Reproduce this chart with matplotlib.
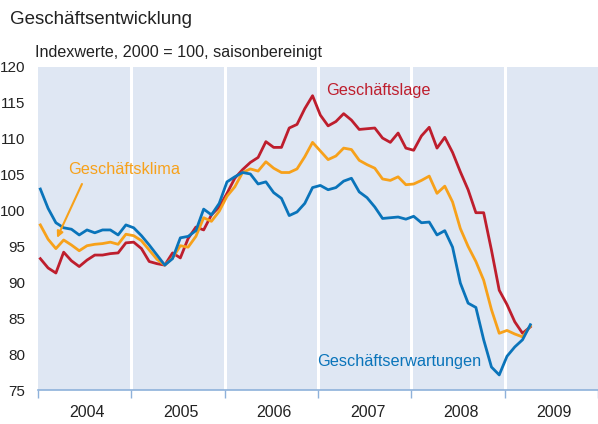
"""
plot.py
Geschäftsentwicklung — ifo-Indexwerte 2004 bis April 2009

Draws three monthly series (Geschäftslage, Geschäftsklima,
Geschäftserwartungen) on a light blue panel and saves out.png.

Run : python plot.py
"""

import matplotlib
matplotlib.use("Agg")
import matplotlib.pyplot as plt
import numpy as np

# ── Config ────────────────────────────────────────────────────
OUT_FILE  = "out.png"
FONT      = ["Liberation Sans", "DejaVu Sans"]
BG_PANEL  = "#DFE7F3"
AXIS_BLUE = "#8EB1DA"
TEXT_COL  = "#222222"

COL_LAGE  = "#BE1E2D"
COL_KLIMA = "#F7A11A"
COL_ERW   = "#0A74BA"

plt.rcParams["font.family"] = FONT

# ── Data (monthly, Jan 2004 – Apr 2009) ───────────────────────
years      = [2004, 2005, 2006, 2007, 2008, 2009]
year_ticks = ["2004", "2005", "2006", "2007", "2008", "2009"]
y_ticks    = [75, 80, 85, 90, 95, 100, 105, 110, 115, 120]

lage = [
    93.3, 92.0, 91.3, 94.2, 93.0, 92.2, 93.1, 93.8, 93.8, 94.0, 94.1, 95.5,
    95.6, 94.7, 92.9, 92.6, 92.4, 94.1, 93.4, 96.1, 97.7, 97.3, 99.4, 100.5,
    102.4, 104.5, 105.7, 106.7, 107.4, 109.6, 108.8, 108.8, 111.5, 112.0, 114.2, 116.0,
    113.3, 111.8, 112.4, 113.5, 112.6, 111.3, 111.4, 111.5, 110.1, 109.5, 110.8, 108.7,
    108.4, 110.4, 111.6, 108.7, 110.2, 108.1, 105.4, 102.9, 99.7, 99.7, 94.5, 88.9,
    86.9, 84.5, 82.9, 83.8,
]

klima = [
    98.0, 96.0, 94.7, 95.9, 95.2, 94.4, 95.1, 95.3, 95.4, 95.6, 95.3, 96.7,
    96.5, 95.8, 94.5, 93.2, 92.4, 93.4, 95.1, 94.9, 96.4, 99.0, 98.5, 99.9,
    102.0, 103.3, 105.3, 105.8, 105.5, 106.8, 105.9, 105.3, 105.3, 105.8, 107.5, 109.5,
    108.3, 107.1, 107.6, 108.7, 108.5, 107.0, 106.4, 105.9, 104.4, 104.2, 104.7, 103.6,
    103.7, 104.2, 104.8, 102.4, 103.4, 101.2, 97.5, 95.0, 92.9, 90.3, 86.2, 82.9,
    83.3, 82.8, 82.4, 83.9,
]

erwartungen = [
    103.0, 100.3, 98.3, 97.6, 97.4, 96.6, 97.3, 96.9, 97.3, 97.3, 96.6, 98.0,
    97.6, 96.5, 95.2, 93.8, 92.4, 93.3, 96.2, 96.4, 97.2, 100.2, 99.4, 101.0,
    104.0, 104.7, 105.3, 105.1, 103.7, 104.0, 102.5, 101.7, 99.3, 99.8, 101.0, 103.2,
    103.5, 102.9, 103.2, 104.1, 104.5, 102.6, 101.8, 100.5, 98.9, 99.0, 99.1, 98.8,
    99.2, 98.3, 98.4, 96.6, 97.2, 94.9, 89.9, 87.1, 86.5, 82.0, 78.2, 77.1,
    79.7, 81.0, 82.0, 84.1,
]

# month positions in decimal years
months = 2004 + (np.arange(len(lage)) + 0.3) / 12


# ── Plot ──────────────────────────────────────────────────────

def plot_chart(output_path: str):
    fig = plt.figure(figsize=(5.98, 4.24), dpi=100)
    fig.patch.set_facecolor("white")
    ax = fig.add_axes([38 / 598, 1 - 390 / 424, 1 - 38 / 598, (390 - 67) / 424])
    ax.set_facecolor(BG_PANEL)

    # year separators (white)
    for yr in years[1:]:
        ax.axvline(yr, color="white", linewidth=2.2, zorder=1)

    ax.plot(months, lage,        color=COL_LAGE,  linewidth=2.0, zorder=3)
    ax.plot(months, klima,       color=COL_KLIMA, linewidth=2.0, zorder=3)
    ax.plot(months, erwartungen, color=COL_ERW,   linewidth=2.0, zorder=4)

    ax.set_xlim(2004, 2010)
    ax.set_ylim(75, 120)

    # y axis: labels only
    ax.set_yticks(y_ticks)
    ax.tick_params(axis="y", length=0, pad=9, labelsize=11,
                   labelcolor=TEXT_COL)

    # x axis: tick marks at year boundaries, labels centred in the year
    ax.set_xticks(years + [2010])
    ax.set_xticklabels([])
    ax.tick_params(axis="x", which="major", length=6, width=1,
                   color=AXIS_BLUE, direction="out")
    ax.set_xticks([y + 0.53 for y in years], minor=True)
    ax.set_xticklabels(year_ticks, minor=True)
    ax.tick_params(axis="x", which="minor", length=0, pad=11,
                   labelsize=11.5, labelcolor=TEXT_COL)

    for side in ("left", "right", "top"):
        ax.spines[side].set_visible(False)
    ax.spines["bottom"].set_color(AXIS_BLUE)
    ax.spines["bottom"].set_linewidth(1.2)

    # series labels
    ax.text(2007.083, 116.1, "Geschäftslage", color=COL_LAGE,
            fontsize=11.7, va="baseline", ha="left", zorder=5)
    ax.text(2006.993, 78.35, "Geschäftserwartungen", color=COL_ERW,
            fontsize=11.7, va="baseline", ha="left", zorder=5)
    ax.text(2004.321, 105.05, "Geschäftsklima", color=COL_KLIMA,
            fontsize=11.7, va="baseline", ha="left", zorder=5)
    ax.annotate("", xy=(2004.204, 96.2), xytext=(2004.471, 103.7),
                arrowprops=dict(arrowstyle="-|>", color=COL_KLIMA,
                                lw=1.5, mutation_scale=9,
                                shrinkA=0, shrinkB=0),
                zorder=5)

    # titles
    fig.text(10 / 598, 1 - 24 / 424, "Geschäftsentwicklung",
             fontsize=13.5, color=TEXT_COL, va="baseline", ha="left")
    fig.text(35 / 598, 1 - 56.5 / 424,
             "Indexwerte, 2000 = 100, saisonbereinigt",
             fontsize=11.6, color=TEXT_COL, va="baseline", ha="left")

    fig.savefig(output_path, dpi=100, facecolor=fig.get_facecolor())
    plt.close(fig)
    print(f"  Saved → {output_path}")


if __name__ == "__main__":
    plot_chart(OUT_FILE)
